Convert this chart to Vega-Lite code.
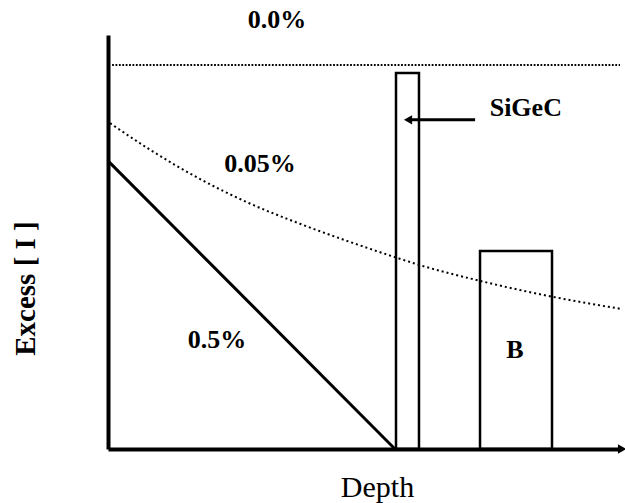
{
  "$schema": "https://vega.github.io/schema/vega-lite/v6.json",
  "width": 512,
  "height": 414,
  "autosize": "none",
  "padding": {"left": 108, "top": 35, "right": 5, "bottom": 54},
  "config": {"view": {"stroke": null}, "background": "white"},
  "encoding": {
    "x": {
      "field": "x", "type": "quantitative",
      "scale": {"domain": [0, 100], "nice": false, "zero": false},
      "axis": {
        "domain": true, "domainColor": "black", "domainWidth": 4,
        "ticks": false, "labels": false, "grid": false,
        "title": "Depth", "titleFont": "Liberation Serif", "titleFontSize": 30,
        "titleFontWeight": "normal", "titleColor": "black",
        "titleX": 269, "titleY": 47, "titleAlign": "center", "titleBaseline": "alphabetic"
      }
    },
    "y": {
      "field": "y", "type": "quantitative",
      "scale": {"domain": [0, 100], "nice": false, "zero": false},
      "axis": {
        "domain": true, "domainColor": "black", "domainWidth": 4,
        "ticks": false, "labels": false, "grid": false,
        "title": "Excess [ I ]", "titleFont": "Liberation Serif", "titleFontSize": 29,
        "titleFontWeight": "bold", "titleColor": "black", "titleAngle": -90,
        "titleX": -83, "titleY": 253, "titleAlign": "center", "titleBaseline": "middle"
      }
    }
  },
  "layer": [
    {
      "data": {"values": [{"x": 0.8, "y": 92.75}, {"x": 100, "y": 92.75}]},
      "mark": {"type": "line", "color": "black", "strokeWidth": 1.8, "strokeDash": [1.8, 1.6]}
    },
    {
      "data": {"values": [
        {"x": 0.4, "y": 78.7}, {"x": 8.2, "y": 72.3}, {"x": 18.0, "y": 65.2},
        {"x": 27.7, "y": 59.3}, {"x": 37.5, "y": 54.4}, {"x": 47.3, "y": 50.0},
        {"x": 56.4, "y": 46.2}, {"x": 60.7, "y": 44.5}, {"x": 72.7, "y": 40.6},
        {"x": 86.7, "y": 36.8}, {"x": 100.4, "y": 33.8}
      ]},
      "mark": {"type": "line", "color": "black", "strokeWidth": 2, "strokeDash": [2, 3], "interpolate": "monotone", "clip": false}
    },
    {
      "data": {"values": [{"x": 0, "y": 69.6}, {"x": 56.05, "y": 0}]},
      "mark": {"type": "line", "color": "black", "strokeWidth": 3}
    },
    {
      "data": {"values": [
        {"x": 56.25, "x2": 60.74, "y": 90.8, "y2": 0},
        {"x": 72.66, "x2": 86.72, "y": 47.8, "y2": 0}
      ]},
      "mark": {"type": "rect", "fill": null, "fillOpacity": 0, "stroke": "black", "strokeWidth": 2.5},
      "encoding": {"x2": {"field": "x2"}, "y2": {"field": "y2"}}
    },
    {
      "data": {"values": [{"x": 58.9, "y": 79.5}, {"x": 71.7, "y": 79.5}]},
      "mark": {"type": "line", "color": "black", "strokeWidth": 3}
    },
    {
      "data": {"values": [{"x": 58.6, "y": 79.5, "shape": "triangle-left"}, {"x": 100.4, "y": 0, "shape": "triangle-right"}]},
      "mark": {"type": "point", "filled": true, "color": "black", "size": 90, "opacity": 1, "clip": false},
      "encoding": {"shape": {"field": "shape", "type": "nominal", "scale": null}}
    },
    {
      "data": {"values": [
        {"x": 33.0, "y": 103.6, "label": "0.0%"},
        {"x": 29.7, "y": 68.8, "label": "0.05%"},
        {"x": 21.3, "y": 26.3, "label": "0.5%"},
        {"x": 81.6, "y": 82.4, "label": "SiGeC"},
        {"x": 79.5, "y": 23.9, "label": "B"}
      ]},
      "mark": {"type": "text", "font": "Liberation Serif", "fontSize": 26, "fontWeight": "bold", "color": "black", "align": "center", "baseline": "middle", "clip": false},
      "encoding": {"text": {"field": "label"}}
    }
  ]
}
